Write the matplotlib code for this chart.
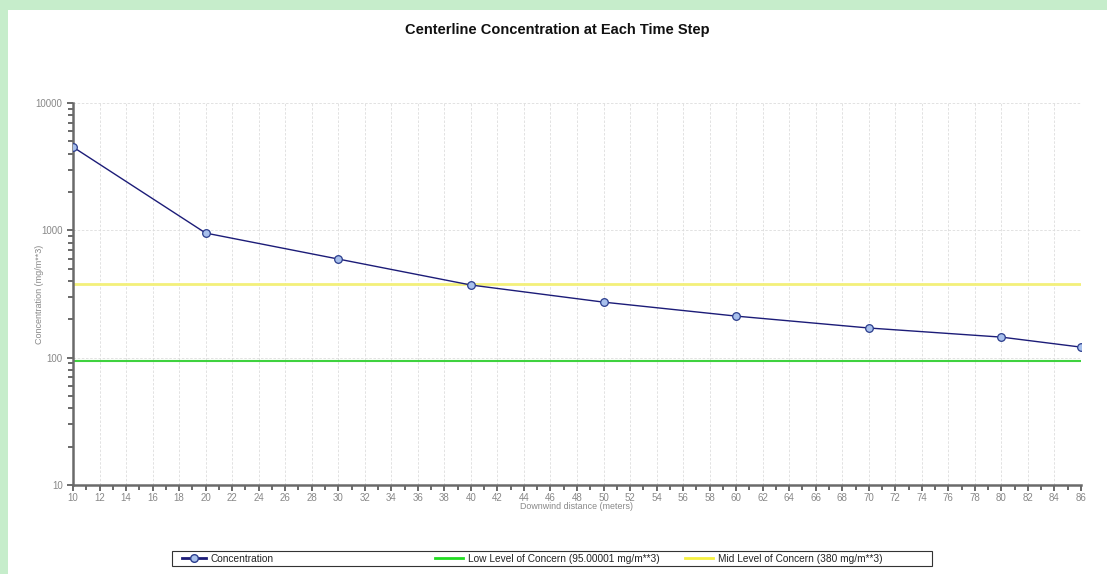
import numpy as np
import matplotlib
matplotlib.use("Agg")
import matplotlib.pyplot as plt
from matplotlib.lines import Line2D
from matplotlib.patches import Rectangle
from matplotlib.ticker import MultipleLocator, LogLocator, NullFormatter

# data
distance = [10, 20, 30, 40, 50, 60, 70, 80, 86]
concentration = [4510, 952, 595, 372, 273, 212, 171, 145, 121]
low_loc = 95.00001
mid_loc = 380

plt.rcParams['font.family'] = ['Liberation Sans', 'DejaVu Sans']

fig = plt.figure(figsize=(11.07, 5.74), dpi=100)
fig.patch.set_facecolor("#c6edcb")
# white panel, green strip left and top
fig.add_artist(Rectangle((8 / 1107, 0), 1, 1 - 10 / 574, transform=fig.transFigure,
                         facecolor="white", edgecolor="none", zorder=-10))

ax = fig.add_axes([73 / 1107, 89 / 574, (1081 - 73) / 1107, (485 - 103) / 574])
ax.set_facecolor("white")

ax.axhline(low_loc, color="#3fd23f", lw=1.5, zorder=2)
ax.axhline(mid_loc, color="#f3f07a", lw=2, zorder=2)
ax.plot(distance, concentration, color="#1c1c78", lw=1.0, marker="o", ms=5.5,
        mfc="#a8c0ec", mec="#2a3c8c", mew=0.9, zorder=3)

ax.set_yscale("log")
ax.set_ylim(10, 10000)
ax.set_xlim(10, 86)
ax.xaxis.set_major_locator(MultipleLocator(2))
ax.xaxis.set_minor_locator(MultipleLocator(1))
ax.yaxis.set_major_locator(LogLocator(base=10))
ax.yaxis.set_minor_locator(LogLocator(base=10, subs=np.arange(2, 10)))
ax.yaxis.set_minor_formatter(NullFormatter())
ax.yaxis.set_major_formatter(matplotlib.ticker.FuncFormatter(lambda v, p: "%d" % v))

ax.grid(True, which="major", color="#dddddd", ls=(0, (3, 2)), lw=0.6)
ax.set_axisbelow(True)

for s in ["top", "right"]:
    ax.spines[s].set_visible(False)
for s in ["left", "bottom"]:
    ax.spines[s].set_color("#6a6a6a")
    ax.spines[s].set_linewidth(1.8)

ax.tick_params(which="both", direction="out", color="#505050", width=1.2,
               labelsize=7, labelcolor="#888888")
ax.tick_params(which="major", length=4)
ax.tick_params(which="minor", length=3.5)
ax.tick_params(axis="x", pad=2)

ax.set_xlabel("Downwind distance (meters)", fontsize=6.4, color="#888888", labelpad=-1)
ax.set_ylabel("Concentration (mg/m**3)", fontsize=6.5, color="#888888", labelpad=-6)

fig.text(557 / 1107, 1 - 30 / 574, "Centerline Concentration at Each Time Step",
         ha="center", va="center", fontsize=10.5, fontweight="bold", color="#111111")

# legend box with three equal columns
fig.add_artist(Rectangle((172 / 1107, 1 - 566 / 574), (932 - 172) / 1107, 15 / 574,
                         transform=fig.transFigure, facecolor="white",
                         edgecolor="#333333", lw=0.8))
handles = [
    Line2D([], [], color="#1c1c78", lw=2, marker="o", ms=5.5, mfc="#a8c0ec", mec="#2a3c8c"),
    Line2D([], [], color="#22dd22", lw=2),
    Line2D([], [], color="#f5f040", lw=2),
]
labels = ["Concentration", "Low Level of Concern (95.00001 mg/m**3)",
          "Mid Level of Concern (380 mg/m**3)"]
starts = [182, 435, 685]
hlens = [2.4, 2.8, 2.8]
for h, lab, x0, hl in zip(handles, labels, starts, hlens):
    leg = fig.legend([h], [lab], loc="center left",
                     bbox_to_anchor=(x0 / 1107, 1 - 558.5 / 574), frameon=False,
                     fontsize=7.3, handlelength=hl, handletextpad=0.45,
                     borderpad=0, borderaxespad=0)
    for t in leg.get_texts():
        t.set_color("#222222")

fig.savefig("out.png", dpi=100, facecolor=fig.get_facecolor())
